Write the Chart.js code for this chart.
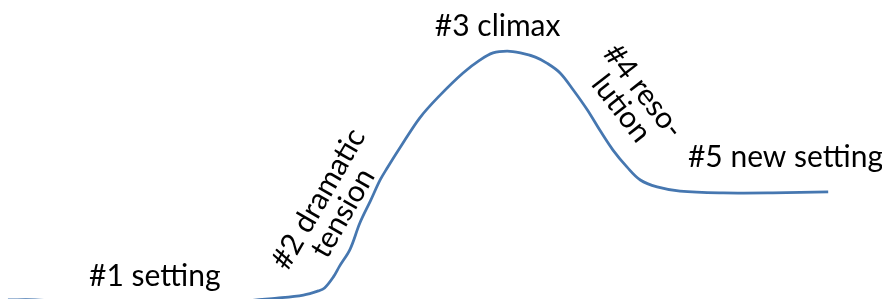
<!DOCTYPE html>
<html>
<head>
<meta charset="utf-8">
<script src="https://cdn.jsdelivr.net/npm/chart.js@4.4.1/dist/chart.umd.min.js"></script>
<style>
  html, body { margin: 0; padding: 0; background: #ffffff; }
  #wrap { position: relative; width: 882px; height: 299px; }
</style>
</head>
<body>
<div id="wrap"><canvas id="c"></canvas></div>
<script>
// Story time (% of the story) and dramatic tension (0-100)
const storyTime = [0.9, 4.0, 9.1, 17.0, 24.9, 31.4, 34.4, 36.1, 36.8, 37.8, 38.5, 39.7, 40.8, 42.0, 43.1, 43.9, 45.4, 47.6, 49.9, 52.5, 54.4, 55.9, 57.5, 59.0, 60.7, 62.0, 63.5, 65.0, 66.6, 68.0, 69.5, 71.1, 72.6, 74.5, 77.1, 82.0, 87.6, 93.9];
const tension   = [-0.3, -0.3, -1.3, -2.0, -1.3, 0.3, 1.3, 2.7, 3.7, 7.4, 11.0, 16.7, 25.4, 32.8, 39.8, 43.8, 50.8, 60.6, 68.2, 75.6, 79.9, 82.3, 82.9, 82.3, 80.9, 78.9, 75.6, 69.9, 63.2, 56.5, 49.8, 44.1, 39.8, 37.5, 36.1, 35.5, 35.5, 35.8];

// Stage labels (lines of text per stage)
const stageLabels = [
  ["#1 setting"],
  ["#2 dramatic", "tension"],
  ["#3 climax"],
  ["#4 reso-", "lution"],
  ["#5 new setting"]
];

// Placement of each label (in data units), rotation and alignment
const labelPlacement = [
  { x: 10.1, y: 4.3,  rot: 0,   align: 'left',   baseline: 'alphabetic' },
  { x: 37.5, y: 31.1, rot: -60, align: 'center', baseline: 'middle' },
  { x: 49.3, y: 88.0, rot: 0,   align: 'left',   baseline: 'alphabetic' },
  { x: 71.7, y: 66.6, rot: 52,  align: 'center', baseline: 'middle' },
  { x: 78.0, y: 44.1, rot: 0,   align: 'left',   baseline: 'alphabetic' }
];

const points = storyTime.map((t, i) => ({ x: t, y: tension[i] }));

const stageLabelPlugin = {
  id: 'stageLabels',
  afterDatasetsDraw(chart) {
    const { ctx, scales } = chart;
    const fontSize = 30;
    const lineHeight = 28;
    ctx.save();
    ctx.fillStyle = '#000000';
    ctx.font = fontSize + 'px Lato, "Open Sans", sans-serif';
    stageLabels.forEach((lines, i) => {
      const p = labelPlacement[i];
      const px = scales.x.getPixelForValue(p.x);
      const py = scales.y.getPixelForValue(p.y);
      ctx.save();
      ctx.translate(px, py);
      ctx.rotate(p.rot * Math.PI / 180);
      ctx.textAlign = p.align;
      ctx.textBaseline = p.baseline;
      const n = lines.length;
      lines.forEach((ln, j) => {
        const off = p.baseline === 'middle' ? (j - (n - 1) / 2) * lineHeight : j * lineHeight;
        ctx.fillText(ln, 0, off);
      });
      ctx.restore();
    });
    ctx.restore();
  }
};

new Chart(document.getElementById('c'), {
  type: 'line',
  data: {
    datasets: [{
      data: points,
      borderColor: '#4677B0',
      borderWidth: 2.75,
      pointRadius: 0,
      tension: 0.35,
      fill: false,
      clip: false
    }]
  },
  options: {
    responsive: true,
    maintainAspectRatio: false,
    animation: false,
    layout: { padding: 0 },
    plugins: { legend: { display: false }, tooltip: { enabled: false } },
    scales: {
      x: { type: 'linear', min: 0, max: 100, display: false },
      y: { type: 'linear', min: 0, max: 100, display: false }
    }
  },
  plugins: [stageLabelPlugin]
});
</script>
</body>
</html>
